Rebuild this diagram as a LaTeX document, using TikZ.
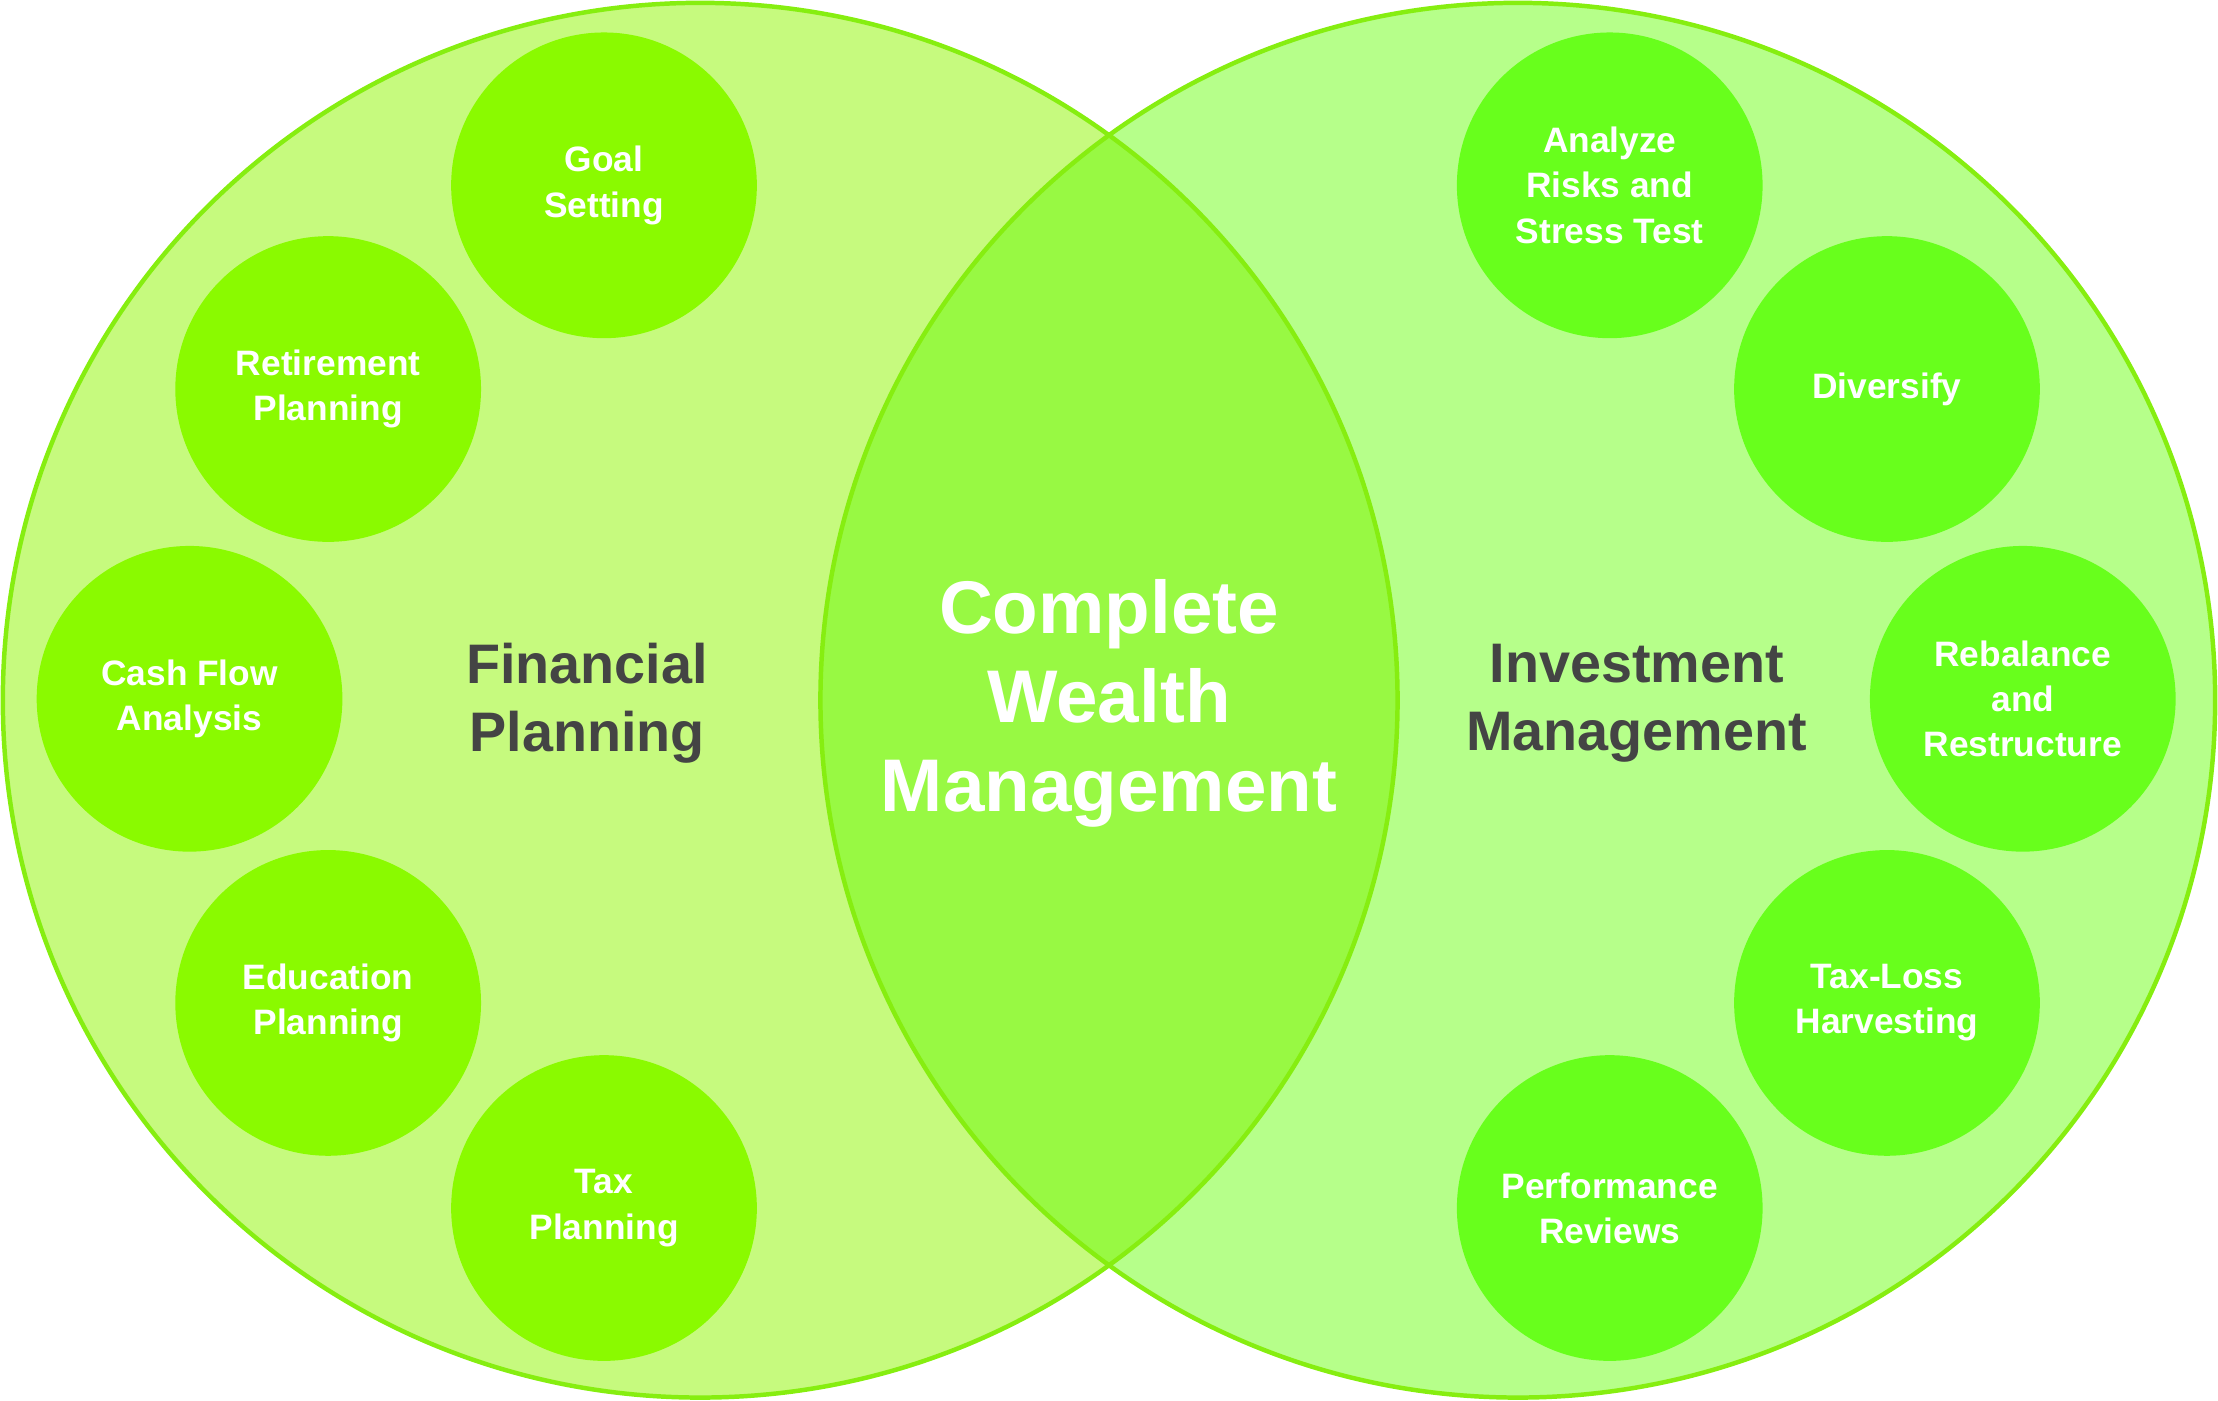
\documentclass[tikz,border=0pt]{standalone}
\usepackage{fontspec}
\setmainfont{Liberation Sans}
\begin{document}
\begin{tikzpicture}[x=0.01cm,y=-0.01cm,
 small/.style={circle,minimum size=2.16cm,inner sep=0pt,align=center,text=white,font=\bfseries\fontsize{7.1}{9.1}\selectfont},
 lsmall/.style={small,fill=lgreenS},
 rsmall/.style={small,fill=rgreenS},
 biglabel/.style={align=center,text=labelgray,font=\bfseries\fontsize{11.2}{13.6}\selectfont}]
\definecolor{lfill}{HTML}{C6FA7E}
\definecolor{rfill}{HTML}{B6FF8A}
\definecolor{mid}{HTML}{98F943}
\definecolor{edge}{HTML}{86EE10}
\definecolor{lgreenS}{HTML}{8AFA00}
\definecolor{rgreenS}{HTML}{68FF1C}
\definecolor{labelgray}{HTML}{444444}
\useasboundingbox (0,0) rectangle (1568,990);
\fill[lfill] (495,495) circle (493);
\fill[rfill] (1073,495) circle (493);
\begin{scope}
\clip (495,495) circle (493);
\fill[mid] (1073,495) circle (493);
\end{scope}
\draw[edge,line width=0.9pt] (495,495) circle (493);
\draw[edge,line width=0.9pt] (1073,495) circle (493);
\node[lsmall] (goal) at (427,131) {Goal\\Setting};
\node[lsmall] (ret) at (232,275) {Retirement\\Planning};
\node[lsmall] (cash) at (134,494) {Cash Flow\\Analysis};
\node[lsmall] (edu) at (232,709) {Education\\Planning};
\node[lsmall] (tax) at (427,854) {Tax\\Planning};
\node[rsmall] (risk) at (1138,131) {Analyze\\Risks and\\Stress Test};
\node[rsmall] (div) at (1334,275) {Diversify};
\node[rsmall] (reb) at (1430,494) {Rebalance\\and\\Restructure};
\node[rsmall] (tl) at (1334,709) {Tax-Loss\\Harvesting};
\node[rsmall] (perf) at (1138,854) {Performance\\Reviews};
\node[biglabel] (fp) at (415,497) {Financial\\Planning};
\node[biglabel] (im) at (1157,497) {Investment\\Management};
\node[align=center,text=white,font=\bfseries\fontsize{15}{17.9}\selectfont] (cwm) at (784,497) {Complete\\Wealth\\Management};
\end{tikzpicture}
\end{document}
